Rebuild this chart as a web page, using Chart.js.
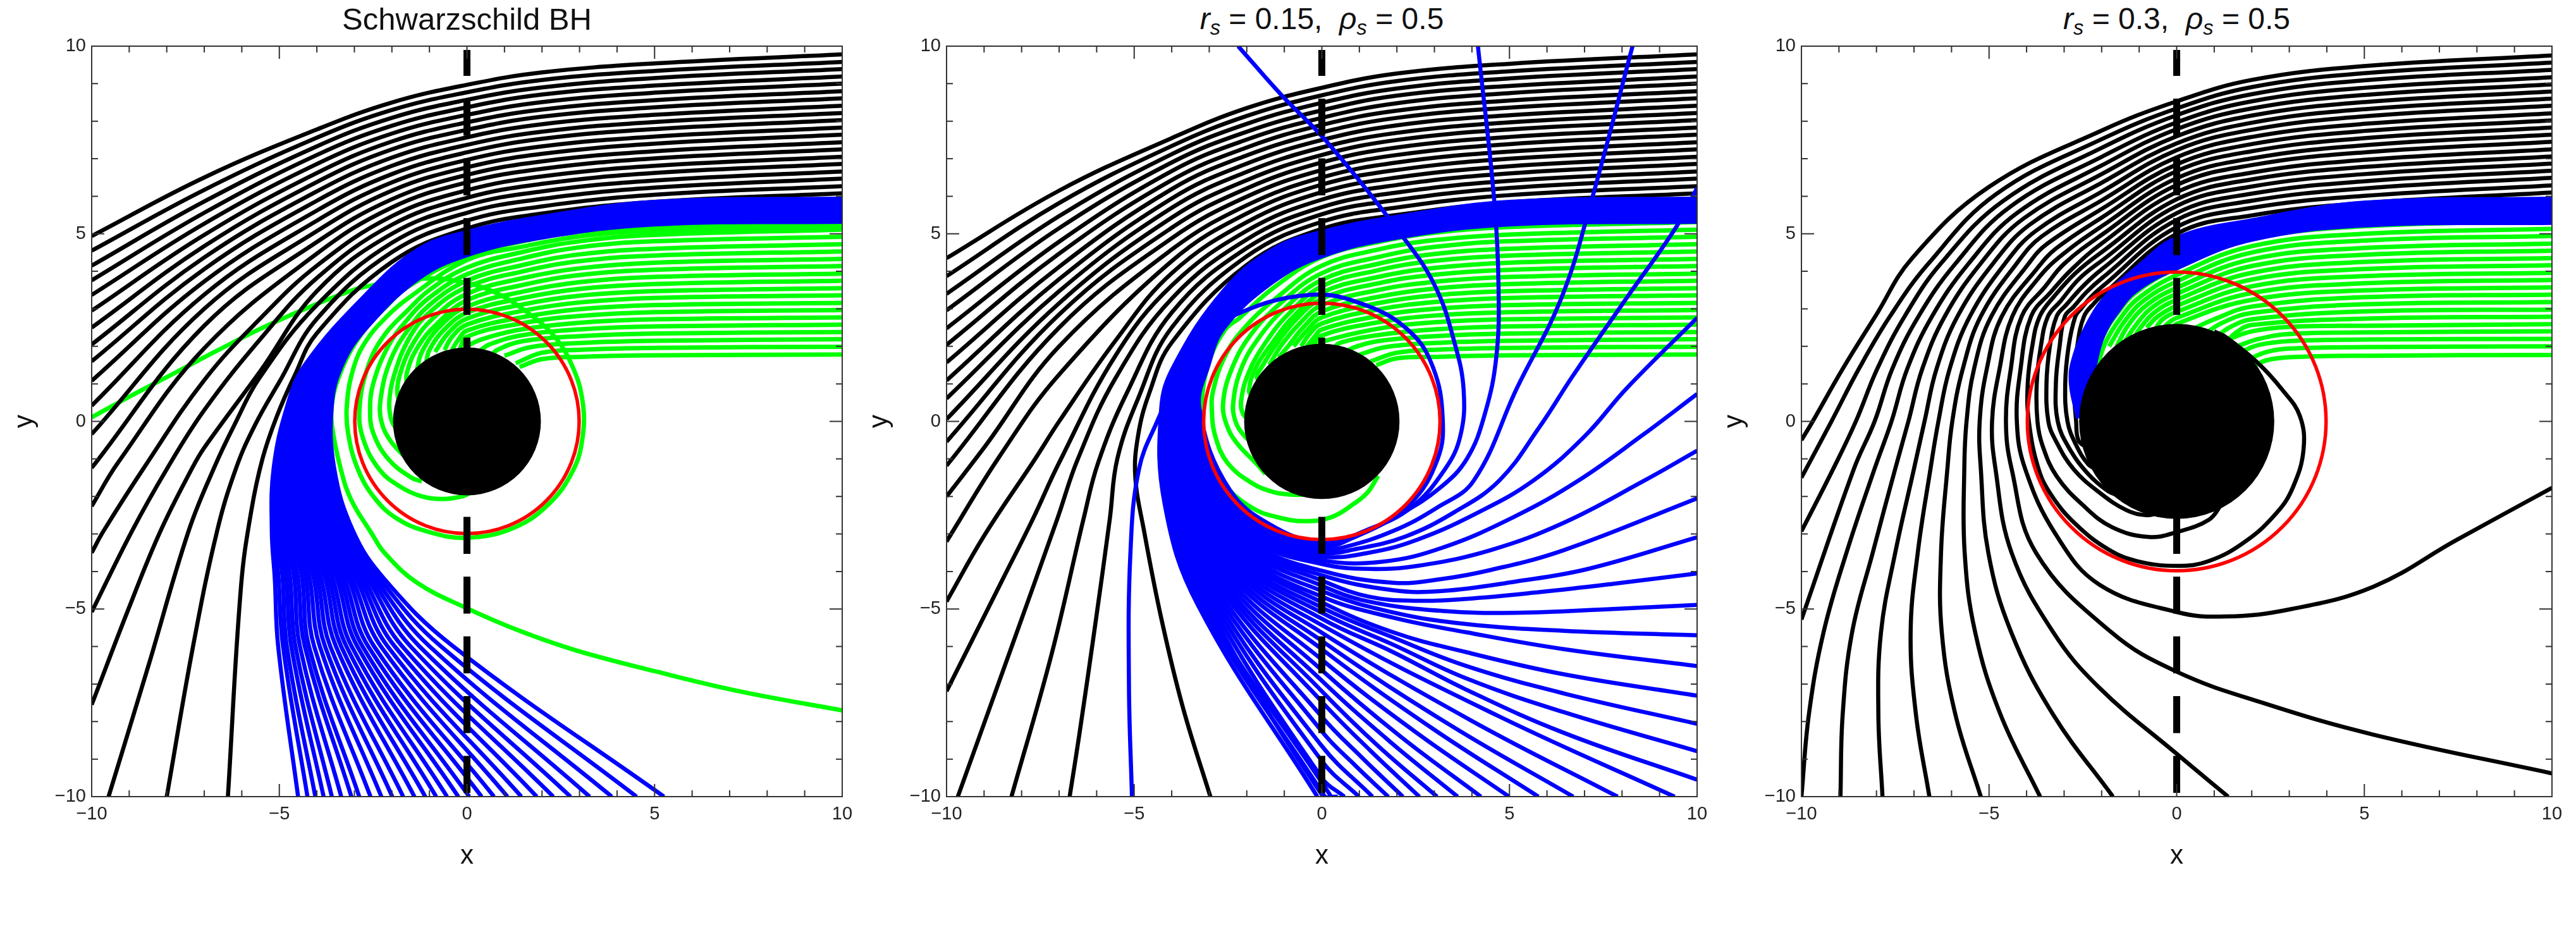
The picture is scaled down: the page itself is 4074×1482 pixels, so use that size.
<!DOCTYPE html>
<html>
<head>
<meta charset="utf-8">
<title>Light rays</title>
<script src="https://cdn.jsdelivr.net/npm/chart.js@4/dist/chart.umd.js"></script>
<style>
body { margin: 0; background: #fff; width: 4074px; height: 1482px; position: relative; overflow: hidden; }
canvas { position: absolute; top: 0; }
.panelTitle { position: absolute; top: 0; width: 1187px; height: 60px; line-height: 60px; text-align: center; font-family: "Liberation Sans", sans-serif; color: #111; white-space: pre; }
.panelTitle sub { font-size: 0.68em; line-height: 0; vertical-align: -0.28em; }
</style>
</head>
<body>
<div class="panelTitle" style="left:145px;font-size:49px">Schwarzschild BH</div>
<div class="panelTitle" style="left:1497px;font-size:48px"><i>r<sub>s</sub></i> = 0.15,  <i>ρ<sub>s</sub></i> = 0.5</div>
<div class="panelTitle" style="left:2849px;font-size:48px"><i>r<sub>s</sub></i> = 0.3,  <i>ρ<sub>s</sub></i> = 0.5</div>
<canvas id="panel0" width="1360" height="1482" style="left:0"></canvas>
<canvas id="panel1" width="1360" height="1482" style="left:1352px"></canvas>
<canvas id="panel2" width="1360" height="1482" style="left:2704px"></canvas>
<script>
const majorTicks = [-10, -5, 0, 5, 10];
const minorTicks = [-9, -8, -7, -6, -4, -3, -2, -1, 1, 2, 3, 4, 6, 7, 8, 9];
const horizonRadius = [1.97, 2.07, 2.6];
const photonRadius = [2.99, 3.15, 3.98];
const dashLine = [0, -9.9, 0, 9.9];
const plotSize = 1187; // pixels across the 20 data units of a panel

const p1Black = [
  [10,9.78,5,9.54,2,9.30,0,8.97,-2,8.5,-4,7.78,-7,6.5,-10,4.94],
  [10,9.58,5,9.34,2,9.10,0,8.77,-2,8.3,-4,7.56,-7,6.17,-10,4.55],
  [10,9.39,5,9.15,2,8.90,0,8.57,-2,8.09,-4,7.33,-7,5.86,-10,4.15],
  [10,9.19,5,8.95,2,8.71,0,8.37,-2,7.88,-4,7.1,-7,5.56,-10,3.76],
  [10,9.00,5,8.76,2,8.51,0,8.17,-2,7.67,-4,6.86,-7,5.27,-10,3.37],
  [10,8.80,5,8.56,2,8.31,0,7.97,-2,7.46,-4,6.62,-7,4.97,-10,2.95],
  [10,8.61,5,8.37,2,8.12,0,7.77,-2,7.25,-4,6.38,-7,4.67,-10,2.5],
  [10,8.41,5,8.17,2,7.92,0,7.57,-2,7.03,-4,6.13,-7,4.37,-10,2.05],
  [10,8.22,5,7.98,2,7.72,0,7.37,-2,6.81,-4,5.88,-7,4.06,-10,1.6],
  [10,8.03,5,7.79,2,7.53,0,7.17,-2,6.59,-4,5.62,-7,3.73,-10,1.08],
  [10,7.83,5,7.59,2,7.33,0,6.97,-2,6.37,-4,5.35,-7,3.38,-10,0.42],
  [10,7.64,5,7.40,2,7.13,0,6.77,-2,6.15,-4,5.07,-7,3.0,-10,-0.34],
  [10,7.44,5,7.20,2,6.93,0,6.57,-2,5.92,-4,4.78,-7,2.55,-10,-1.24],
  [10,7.25,5,7.01,2,6.73,0,6.37,-2,5.7,-4,4.47,-7,1.95,-9.3,-1.1,-10,-2.26],
  [10,7.05,5,6.81,2,6.53,0,6.16,-2,5.47,-4,4.15,-5.5,2.75,-7,1.1,-8.61,-1.24,-9.69,-2.93,-10,-3.5],
  [10,6.86,5,6.62,2,6.33,0,5.96,-2,5.24,-4,3.82,-5.5,2.2,-7,0.3,-7.98,-1.24,-8.93,-2.93,-10,-5.08],
  [10,6.66,5,6.42,2,6.13,0,5.76,-2,5.0,-4,3.47,-5.5,1.35,-7,-0.7,-7.32,-1.24,-8.17,-2.93,-9,-4.95,-10,-7.55],
  [10,6.47,5,6.23,2,5.93,0,5.56,-2,4.76,-4,3.1,-5.5,1.2,-6.2,-0.1,-6.74,-1.24,-7.42,-2.93,-8.5,-6.55,-9.55,-10],
  [10,6.27,5,6.04,2,5.73,0,5.35,-2,4.51,-4,2.73,-5,1.05,-5.65,-0.1,-6.15,-1.24,-6.66,-2.93,-7.3,-6,-8,-10],
  [10,6.08,5,5.85,2,5.54,0,5.14,-2,4.25,-4,2.35,-4.6,1.2,-5.08,0.1,-5.45,-1.0,-5.75,-2.4,-6.02,-4.39,-6.37,-10]
];
const p1Green = [
  [10,5.31,5,5.18,3,5.05,1.5,4.8,0,4.4,-1.57,3.59,-2.13,3.08,-2.7,2.47,-3.15,1.79,-3.48,1.0,-3.6,0.44,-3.6,-0.1,-3.37,-1.24,-3.09,-2.08,-2.53,-3.0,-2.2,-3.5,-1.33,-4.3,0,-4.98,1.45,-5.6,2.9,-6.1,5.1,-6.68,7.3,-7.2,10,-7.7],
  [10,5.21,5,5.08,3,4.93,1.5,4.66,0,4.3,-1.57,3.28,-2.13,2.8,-2.7,2.13,-3.03,1.4,-3.2,0.44,-3.17,-0.29,-2.92,-1.24,-2.47,-2.03,-1.85,-2.6,-1,-2.95,0,-3.1,1.21,-2.85,2.15,-2.23,2.82,-1.32,3.08,-0.43,3.08,0.54,2.8,1.49,2.3,2.3,1.56,2.94,0.72,3.45,-0.3,3.75,-1.3,3.8,-2.7,3.59,-3.26,3.42,-4.38,2.97,-5.5,2.47,-6.63,1.9,-7.75,1.31,-8.88,0.72,-10,0.11],
  [10,5.11,5,4.97,3,4.8,1.5,4.52,0,4.1,-1,3.5,-1.57,2.97,-2.2,2.3,-2.62,1.51,-2.86,0.39,-2.77,-0.45,-2.32,-1.3,-1.76,-1.75,-1.2,-2.0,-0.64,-2.07,-0.13,-2.0,0.1,-1.9],
  [10,4.92,5,4.8,3,4.64,1.5,4.35,0,3.92,-1,3.3,-1.6,2.7,-2.1,2.0,-2.5,1.0,-2.58,0.3,-2.5,-0.3,-2.1,-1,-1.48,-1.5,-1.2,-1.6],
  [10,4.72,5,4.6,3,4.45,1.5,4.17,0,3.75,-1,3.1,-1.6,2.4,-2.05,1.6,-2.3,0.6,-2.28,0,-2.05,-0.5,-1.7,-0.9],
  [10,4.53,5,4.42,3,4.27,1.5,4.0,0,3.58,-1,2.9,-1.55,2.2,-1.95,1.2,-2.07,0.5,-2.0,0,-1.8,-0.3],
  [10,4.33,5,4.23,3,4.08,1.5,3.82,0,3.4,-0.9,2.75,-1.45,2.05,-1.8,1.2,-1.85,0.7,-1.7,0.3],
  [10,4.14,5,4.04,3,3.9,1.5,3.64,0,3.23,-0.8,2.6,-1.3,2,-1.6,1.3,-1.6,0.9],
  [10,3.94,5,3.85,3,3.71,1.5,3.46,0,3.06,-0.7,2.55,-1.2,1.85,-1.35,1.3],
  [10,3.75,5,3.66,3,3.53,1.5,3.29,0,2.9,-0.6,2.45,-1.0,1.9,-1.1,1.5],
  [10,3.55,5,3.47,3,3.35,1.5,3.12,0,2.74,-0.5,2.35,-0.85,1.85],
  [10,3.36,5,3.29,3,3.17,1.5,2.95,0,2.58,-0.4,2.25,-0.6,1.9],
  [10,3.16,5,3.1,3,2.99,1.5,2.78,0,2.42,-0.25,2.15,-0.4,1.9],
  [10,2.97,5,2.91,3,2.81,1.5,2.62,0,2.26,-0.2,1.9],
  [10,2.77,5,2.72,3,2.63,1.5,2.46,0.6,2.25,0,2.0,-0.1,1.8],
  [10,2.58,5,2.53,3,2.45,1.5,2.3,0.6,2.05,0.3,1.85],
  [10,2.38,5,2.34,3,2.27,1.5,2.14,0.8,1.9,0.6,1.7],
  [10,2.19,5,2.15,3,2.09,1.7,1.98,1,1.75],
  [10,1.99,5,1.96,3,1.91,2,1.83,1.3,1.55],
  [10,1.78,5,1.76,3,1.72,2,1.66,1.4,1.45]
];
const p1BlueAt10 = [5.94,5.92,5.90,5.87,5.85,5.83,5.81,5.79,5.76,5.74,5.72,5.70,5.67,5.65,5.63,5.61,5.59,5.56,5.54,5.52,5.50,5.48,5.45,5.43,5.41,5.39,5.37,5.34,5.32];
const p1BlueAt5 = [5.85,5.83,5.81,5.79,5.76,5.74,5.72,5.70,5.68,5.66,5.64,5.61,5.59,5.57,5.55,5.53,5.51,5.49,5.46,5.44,5.42,5.40,5.38,5.36,5.34,5.31,5.29,5.27,5.25];
const p1BlueAt2 = [5.45,5.43,5.41,5.39,5.37,5.35,5.33,5.31,5.29,5.27,5.25,5.23,5.21,5.2,5.18,5.16,5.14,5.12,5.1,5.08,5.06,5.04,5.02,5,4.98,4.96,4.94,4.92,4.9];
const p1BlueAt0 = [5.05,5.03,5.01,4.98,4.96,4.94,4.92,4.90,4.87,4.85,4.83,4.81,4.78,4.76,4.74,4.72,4.70,4.67,4.65,4.63,4.61,4.59,4.56,4.54,4.52,4.50,4.48,4.45,4.43];
const p1BlueAtM13 = [4.58,4.55,4.52,4.5,4.47,4.44,4.41,4.38,4.36,4.33,4.3,4.27,4.25,4.22,4.19,4.16,4.13,4.11,4.08,4.05,4.02,3.99,3.97,3.94,3.91,3.88,3.85,3.83,3.8];
const p1BlueAtM27 = [3.37,3.34,3.31,3.27,3.24,3.21,3.18,3.15,3.11,3.08,3.05,3.02,2.99,2.95,2.92,2.89,2.86,2.83,2.79,2.76,2.73,2.7,2.67,2.63,2.6,2.57,2.54,2.51,2.47];
const p1BlueXUp = [-4.32,-4.28,-4.25,-4.21,-4.18,-4.14,-4.11,-4.07,-4.04,-4.0,-3.97,-3.93,-3.9,-3.86,-3.82,-3.79,-3.75,-3.72,-3.68,-3.65,-3.61,-3.58,-3.54,-3.51,-3.47,-3.44,-3.4,-3.37,-3.33];
const p1BlueXNear = [-4.78,-4.74,-4.70,-4.65,-4.61,-4.57,-4.53,-4.49,-4.44,-4.40,-4.36,-4.32,-4.28,-4.23,-4.19,-4.15,-4.11,-4.07,-4.02,-3.98,-3.94,-3.9,-3.86,-3.81,-3.77,-3.73,-3.69,-3.65,-3.6];
const p1BlueXLeft = [-5.15,-5.09,-5.04,-4.98,-4.92,-4.86,-4.81,-4.75,-4.69,-4.63,-4.58,-4.52,-4.46,-4.4,-4.35,-4.29,-4.23,-4.17,-4.12,-4.06,-4.0,-3.94,-3.89,-3.83,-3.77,-3.71,-3.66,-3.6,-3.54];
const p1BlueXMid = [-5.2,-5.12,-5.05,-4.97,-4.89,-4.81,-4.74,-4.66,-4.58,-4.5,-4.43,-4.35,-4.27,-4.19,-4.12,-4.04,-3.96,-3.88,-3.81,-3.73,-3.65,-3.57,-3.5,-3.42,-3.34,-3.26,-3.19,-3.11,-3.03];
const p1BlueXBend = [-5.12,-5.02,-4.91,-4.81,-4.71,-4.6,-4.5,-4.39,-4.29,-4.19,-4.08,-3.98,-3.88,-3.77,-3.67,-3.57,-3.46,-3.36,-3.26,-3.15,-3.05,-2.94,-2.84,-2.74,-2.63,-2.53,-2.43,-2.32,-2.2];
const p1BlueXLow = [-5.03,-4.9,-4.8,-4.68,-4.57,-4.45,-4.32,-4.21,-4.07,-3.92,-3.78,-3.64,-3.49,-3.35,-3.21,-3.07,-2.92,-2.78,-2.63,-2.47,-2.29,-2.11,-1.92,-1.72,-1.5,-1.26,-0.99,-0.69,-0.36];
const p1BlueEnd = [-4.5,-4.25,-4.04,-3.82,-3.6,-3.35,-3.08,-2.87,-2.57,-2.28,-1.99,-1.7,-1.4,-1.11,-0.82,-0.53,-0.23,0.06,0.39,0.72,1.08,1.45,1.86,2.3,2.76,3.27,3.86,4.52,5.25];

const p2Black = [
  [10,9.78,5,9.53,2,9.27,0,8.89,-2,8.35,-4,7.55,-7,6.15,-10,4.35],
  [10,9.58,5,9.33,2,9.07,0,8.69,-2,8.14,-4,7.34,-7,5.82,-10,3.87],
  [10,9.39,5,9.14,2,8.87,0,8.49,-2,7.93,-4,7.12,-7,5.47,-10,3.4],
  [10,9.19,5,8.94,2,8.68,0,8.29,-2,7.72,-4,6.9,-7,5.15,-10,2.96],
  [10,9.0,5,8.75,2,8.48,0,8.09,-2,7.51,-4,6.67,-7,4.79,-10,2.48],
  [10,8.8,5,8.55,2,8.28,0,7.9,-2,7.3,-4,6.43,-7,4.47,-10,2.04],
  [10,8.61,5,8.36,2,8.09,0,7.7,-2,7.09,-4,6.19,-7,4.12,-10,1.57],
  [10,8.41,5,8.16,2,7.89,0,7.5,-2,6.87,-4,5.94,-7,3.79,-10,1.09],
  [10,8.22,5,7.97,2,7.69,0,7.3,-2,6.65,-4,5.69,-7,3.47,-10,0.61],
  [10,8.03,5,7.78,2,7.5,0,7.1,-2,6.43,-4,5.43,-7,3.15,-10,0.06],
  [10,7.83,5,7.58,2,7.3,0,6.9,-2,6.21,-4,5.16,-7,2.85,-10,-0.54],
  [10,7.64,5,7.39,2,7.1,0,6.7,-2,5.99,-4,4.88,-7,2.5,-10,-1.18],
  [10,7.44,5,7.19,2,6.9,0,6.5,-2,5.76,-4,4.58,-7,2.0,-9,-0.7,-10,-2.0],
  [10,7.25,5,7.0,2,6.7,0,6.31,-2,5.54,-4,4.27,-7,1.25,-8.6,-0.95,-10,-3.2],
  [10,7.05,5,6.8,2,6.5,0,6.11,-2,5.31,-4,3.95,-5.5,2.15,-7,0,-7.64,-1.0,-9,-3.05,-10,-4.8],
  [10,6.86,5,6.61,2,6.3,0,5.91,-2,5.08,-4,3.62,-5.5,1.75,-7,-1.1,-7.7,-2.6,-8.5,-4.2,-10,-7.19],
  [10,6.66,5,6.41,2,6.1,0,5.71,-2,4.85,-4,3.27,-5.5,1.15,-6.5,-1.0,-7.05,-2.6,-8.3,-6.1,-9.7,-10],
  [10,6.47,5,6.22,2,5.9,0,5.52,-2,4.62,-4,2.9,-5.2,0.75,-5.96,-1.1,-6.35,-2.6,-7.2,-6.2,-8.27,-10],
  [10,6.27,5,6.03,2,5.7,0,5.32,-2,4.4,-4,2.5,-4.9,0.6,-5.45,-1.0,-5.65,-2.6,-6.05,-5.5,-6.47,-8.4,-6.72,-10],
  [10,6.08,5,5.84,2,5.5,0,5.13,-2,4.17,-4,2.1,-4.6,0.75,-4.9,-0.4,-4.97,-1.5,-4.75,-2.85,-4.28,-5.24,-3.7,-7.63,-2.97,-10]
];
const p2Green = [
  [10,5.31,5,5.18,3,5.03,1.5,4.78,0,4.38,-1.3,3.55,-2.2,2.75,-2.57,2.45,-3.0,1.6,-3.2,0.5,-3.15,-0.4,-2.93,-1.05,-2.57,-1.71,-1.85,-2.31,-1.19,-2.55,-0.46,-2.66,0.26,-2.55,0.86,-2.19,1.22,-1.89,1.5,-1.45],
  [10,5.11,5,4.98,3,4.83,1.5,4.58,0,4.15,-1.2,3.3,-2.1,2.45,-2.6,1.7,-2.9,0.8,-2.93,0.3,-2.84,-0.39,-2.51,-1.11,-1.85,-1.65,-1.3,-1.88,-0.82,-1.95,-0.4,-1.95],
  [10,4.92,5,4.8,3,4.65,1.5,4.38,0,3.95,-1.1,3.15,-1.9,2.3,-2.4,1.4,-2.63,0.5,-2.54,-0.08,-2.27,-0.57,-1.73,-1.14,-1.5,-1.4],
  [10,4.72,5,4.6,3,4.46,1.5,4.2,0,3.77,-1,3.0,-1.7,2.2,-2.15,1.4,-2.36,0.5,-2.3,0,-2.06,-0.39,-1.8,-0.6],
  [10,4.53,5,4.42,3,4.28,1.5,4.03,0,3.6,-0.9,2.85,-1.5,2.1,-1.95,1.3,-2.15,0.55,-2.1,0.2,-1.9,0],
  [10,4.33,5,4.23,3,4.09,1.5,3.85,0,3.43,-0.8,2.75,-1.35,2.05,-1.75,1.45,-1.94,0.82,-1.8,0.6],
  [10,4.14,5,4.04,3,3.91,1.5,3.68,0,3.27,-0.7,2.7,-1.25,2.0,-1.6,1.45,-1.73,1.18,-1.6,1],
  [10,3.94,5,3.85,3,3.72,1.5,3.5,0,3.1,-0.6,2.6,-1.1,2,-1.4,1.5],
  [10,3.75,5,3.66,3,3.54,1.5,3.32,0,2.93,-0.5,2.5,-0.9,2.0,-1.15,1.7],
  [10,3.55,5,3.47,3,3.36,1.5,3.15,0,2.77,-0.4,2.42,-0.75,2.0],
  [10,3.36,5,3.29,3,3.18,1.5,2.98,0,2.61,-0.35,2.3,-0.55,2.0],
  [10,3.16,5,3.1,3,3.0,1.5,2.81,0,2.45,-0.2,2.25,-0.4,2.0],
  [10,2.97,5,2.91,3,2.82,1.5,2.64,0,2.29,-0.25,2.0],
  [10,2.77,5,2.72,3,2.64,1.5,2.47,0,2.12,-0.1,2.0],
  [10,2.58,5,2.53,3,2.45,1.5,2.3,0.5,2.1,0.3,1.95],
  [10,2.38,5,2.34,3,2.27,1.5,2.14,0.8,1.95,0.6,1.8],
  [10,2.19,5,2.15,3,2.09,1.7,1.98,1,1.78],
  [10,1.99,5,1.96,3,1.91,2,1.83,1.3,1.6],
  [10,1.78,5,1.76,3,1.72,2,1.68,1.45,1.5]
];
const p2BlueAt10 = [5.32,5.34,5.36,5.37,5.39,5.41,5.43,5.44,5.46,5.48,5.5,5.51,5.53,5.55,5.57,5.59,5.6,5.62,5.64,5.66,5.67,5.69,5.71,5.73,5.74,5.76,5.78,5.8,5.82,5.83,5.85,5.87,5.89,5.9,5.92,5.94];
const p2BlueAt5 = [5.25,5.27,5.28,5.3,5.32,5.34,5.35,5.37,5.39,5.4,5.42,5.44,5.46,5.47,5.49,5.51,5.52,5.54,5.56,5.58,5.59,5.61,5.63,5.64,5.66,5.68,5.69,5.71,5.73,5.75,5.76,5.78,5.8,5.81,5.83,5.85];
const p2BlueAt2 = [4.9,4.92,4.93,4.95,4.96,4.98,4.99,5.01,5.03,5.04,5.06,5.07,5.09,5.1,5.12,5.14,5.15,5.17,5.18,5.2,5.21,5.23,5.25,5.26,5.28,5.29,5.31,5.32,5.34,5.36,5.37,5.39,5.4,5.42,5.43,5.45];
const p2BlueAt0 = [4.4,4.42,4.44,4.46,4.47,4.49,4.51,4.53,4.55,4.57,4.59,4.6,4.62,4.64,4.66,4.68,4.7,4.72,4.73,4.75,4.77,4.79,4.81,4.83,4.85,4.86,4.88,4.9,4.92,4.94,4.96,4.98,4.99,5.01,5.03,5.05];
const p2BlueAtM13 = [3.72,3.74,3.77,3.79,3.82,3.84,3.87,3.89,3.92,3.94,3.97,3.99,4.02,4.04,4.06,4.09,4.11,4.14,4.16,4.19,4.21,4.24,4.26,4.29,4.31,4.34,4.36,4.38,4.41,4.43,4.46,4.48,4.51,4.53,4.56,4.58];
const p2BlueAtM26 = [2.5,2.53,2.56,2.59,2.61,2.64,2.67,2.7,2.73,2.76,2.79,2.81,2.84,2.87,2.9,2.93,2.96,2.99,3.01,3.04,3.07,3.1,3.13,3.16,3.19,3.21,3.24,3.27,3.3,3.33,3.36,3.39,3.41,3.44,3.47,3.5];
const p2BlueXUp = [-3.02,-3.05,-3.07,-3.1,-3.12,-3.15,-3.18,-3.2,-3.23,-3.25,-3.28,-3.31,-3.33,-3.36,-3.38,-3.41,-3.44,-3.46,-3.49,-3.51,-3.54,-3.57,-3.59,-3.62,-3.64,-3.67,-3.7,-3.72,-3.75,-3.77,-3.8,-3.83,-3.85,-3.88,-3.9,-3.93];
const p2BlueXNear = [-3.26,-3.29,-3.32,-3.35,-3.38,-3.41,-3.43,-3.46,-3.49,-3.52,-3.55,-3.58,-3.61,-3.64,-3.67,-3.70,-3.73,-3.75,-3.78,-3.81,-3.84,-3.87,-3.9,-3.93,-3.96,-3.99,-4.02,-4.05,-4.07,-4.1,-4.13,-4.16,-4.19,-4.22,-4.25,-4.28];
const p2BlueBendX = [-2.45,-2.5,-2.55,-2.6,-2.65,-2.7,-2.75,-2.8,-2.85,-2.9,-2.95,-3.0,-3.05,-3.1,-3.15,-3.2,-3.25,-3.3,-3.34,-3.39,-3.44,-3.49,-3.54,-3.59,-3.64,-3.69,-3.74,-3.79,-3.84,-3.89,-3.94,-3.99,-4.04,-4.09,-4.14,-4.19];
const p2BlueBendY = [-1.83,-1.84,-1.85,-1.86,-1.87,-1.88,-1.89,-1.9,-1.91,-1.92,-1.93,-1.94,-1.95,-1.96,-1.97,-1.98,-1.99,-2,-2.01,-2.03,-2.04,-2.05,-2.06,-2.07,-2.08,-2.09,-2.1,-2.11,-2.12,-2.13,-2.14,-2.15,-2.16,-2.17,-2.18,-2.19];
const p2BlueFocusX = [-1.2,-1.26,-1.32,-1.38,-1.44,-1.5,-1.56,-1.62,-1.68,-1.74,-1.8,-1.86,-1.92,-1.98,-2.04,-2.1,-2.16,-2.22,-2.28,-2.34,-2.4,-2.46,-2.52,-2.58,-2.64,-2.7,-2.76,-2.82,-2.88,-2.94,-3,-3.06,-3.12,-3.18,-3.24,-3.3];
const p2BlueFocusY = [-2.85,-2.91,-2.97,-3.03,-3.08,-3.14,-3.2,-3.26,-3.32,-3.38,-3.44,-3.49,-3.55,-3.61,-3.67,-3.73,-3.79,-3.85,-3.9,-3.96,-4.02,-4.08,-4.14,-4.2,-4.26,-4.31,-4.37,-4.43,-4.49,-4.55,-4.61,-4.67,-4.72,-4.78,-4.84,-4.9];
const p2BlueTails = [
  [0,-3.2,1.16,-2.94,2.36,-2.19,3.09,-0.99,3.22,0.1,2.97,1.42,2.36,2.38,1.16,3.1,-0.34,3.37,-2.39,2.8,-3.2,2.1,-4,0.8,-4.37,0.04,-4.87,-1.26,-5.1,-3.5,-5.14,-7,-5.06,-10],
  [0,-3.27,1.16,-2.91,2.36,-2.31,3.27,-1.29,3.69,-0.39,3.78,0.82,3.54,2.08,3.02,3.6,2.12,4.97,0.1,7.49,-1.07,8.69,-2.23,10],
  [0,-3.35,0.86,-3.09,2.06,-2.49,3.15,-1.77,3.87,-0.99,4.35,0.22,4.65,1.72,4.71,3.53,4.6,5.82,4.16,10],
  [0,-3.42,0.6,-3.35,1.9,-2.92,3.07,-2.3,4.05,-1.575,5.2,0.89,6.38,3.28,7.19,5.9,8.28,10],
  [0,-3.5,0.92,-3.4,2.22,-3.07,3.53,-2.42,4.73,-1.575,5.8,-0.15,6.68,1.2,8.13,3.3,9.45,5.19,10,6.22],
  [0,-3.6,1.25,-3.5,2.55,-3.15,4.18,-2.42,5.64,-1.575,7.0,-0.4,8.13,0.89,10,2.76],
  [0,-3.7,1.6,-3.74,3.2,-3.37,5.15,-2.53,6.84,-1.575,8.5,-0.4,10,0.73],
  [0,-3.8,1.25,-3.93,2.55,-3.85,4.5,-3.43,6.45,-2.7,8.6,-1.575,10,-0.78],
  [0,-3.98,1.9,-4.3,3.2,-4.2,4.5,-3.96,6.45,-3.43,10,-2.05],
  [0,-4.1,1.9,-4.5,3.2,-4.52,5.15,-4.27,7.1,-3.93,10,-3.09],
  [0,-4.24,1.25,-4.67,2.55,-4.78,3.85,-4.73,5.8,-4.55,7.75,-4.33,10,-4.05],
  [0,-4.38,1.25,-4.8,3.2,-5.05,5.15,-5.1,7.75,-5.0,10,-4.89],
  [0,-4.52,1.9,-5.09,3.85,-5.4,6.45,-5.58,10,-5.7],
  [0,-4.67,1.9,-5.23,3.85,-5.62,6.45,-6.07,10,-6.52],
  [0,-4.82,1.9,-5.62,3.85,-6.15,6.45,-6.74,10,-7.31],
  [0,-4.96,1.9,-5.76,3.85,-6.52,6.45,-7.25,10,-8.06],
  [0,-5.1,1.9,-5.95,3.85,-6.85,6.45,-7.75,10,-8.79],
  [0,-5.26,1.9,-6.15,3.85,-7.15,6.45,-8.3,10,-9.55],
  [0,-5.43,4.7,-7.85,9.4,-10],
  [0,-5.63,3.94,-7.95,7.88,-10],
  [0,-5.85,3.35,-8.05,6.7,-10],
  [0,-6.07,2.9,-8.15,5.77,-10],
  [0,-6.35,2.5,-8.28,4.99,-10],
  [0,-6.63,2.1,-8.4,4.24,-10],
  [0,-6.91,1.8,-8.52,3.62,-10],
  [0,-7.19,1.5,-8.65,3.07,-10],
  [0,-7.47,1.3,-8.78,2.6,-10],
  [0,-7.87,1.08,-8.97,2.16,-10],
  [0,-8.26,0.88,-9.16,1.77,-10],
  [0,-8.65,1.35,-10],
  [0,-9.05,0.99,-10],
  [0,-9.5,0.6,-10],
  [0,-9.95,0.42,-10],
  [0.25,-10],
  [0.08,-10],
  [-0.12,-10]
];

const p3Black = [
  [10,9.75,5,9.47,2,9.1,0,8.53,-2,7.75,-5,6.25,-7.05,4.35,-8.03,2.8,-8.9,1.4,-9.7,0,-10,-0.5],
  [10,9.56,5,9.28,2,8.91,0,8.34,-2,7.52,-4.82,6.05,-6.62,4.2,-7.64,2.8,-8.47,1.4,-9.2,0,-10,-1.5],
  [10,9.37,5,9.09,2,8.72,0,8.16,-2,7.29,-4.62,5.88,-6.29,4.2,-7.25,2.8,-7.98,1.4,-8.55,0,-9.15,-1.26,-10,-2.93],
  [10,9.17,5,8.89,2,8.53,0,7.97,-2,7.05,-4.44,5.72,-5.9,4.2,-6.88,2.8,-7.58,1.4,-8.05,0,-8.6,-1.26,-10,-5.28],
  [10,8.98,5,8.70,2,8.34,0,7.79,-2,6.82,-4.26,5.55,-5.55,4.2,-6.52,2.8,-7.18,1.4,-7.6,0,-8.05,-1.26,-8.8,-3.5,-9.41,-5.62,-9.8,-7.8,-10,-10],
  [10,8.79,5,8.51,2,8.15,0,7.6,-2,6.59,-4.09,5.4,-5.23,4.2,-6.18,2.8,-6.78,1.4,-7.15,0,-7.5,-1.26,-8.1,-3.5,-8.65,-5.62,-8.9,-7.8,-8.96,-10],
  [10,8.6,5,8.32,2,7.96,0,7.41,-2,6.36,-3.92,5.24,-4.9,4.2,-5.84,2.8,-6.4,1.4,-6.72,0,-7,-1.26,-7.5,-3.5,-7.88,-5.62,-7.95,-7.8,-7.84,-10],
  [10,8.41,5,8.13,2,7.77,0,7.23,-2,6.12,-3.75,5.08,-4.58,4.2,-5.51,2.8,-6.05,1.4,-6.35,0,-6.56,-1.26,-6.9,-3.5,-7.09,-5.62,-6.95,-7.8,-6.59,-10],
  [10,8.21,5,7.93,2,7.58,0,7.04,-2,5.89,-3.61,4.92,-4.27,4.2,-5.22,2.8,-5.7,1.4,-5.98,0,-6.11,-1.26,-6.28,-3.5,-6.26,-5.62,-5.9,-7.8,-5.22,-10],
  [10,8.02,5,7.74,2,7.39,0,6.85,-2,5.66,-3.47,4.72,-3.95,4.2,-4.94,2.8,-5.4,1.4,-5.6,0,-5.66,-1.26,-5.65,-3.5,-5.37,-5.62,-4.7,-7.8,-3.64,-10],
  [10,7.83,5,7.55,2,7.2,0,6.67,-2,5.43,-3.2,4.62,-3.7,4.1,-4.66,2.8,-5.06,1.4,-5.25,0,-5.22,-1.26,-5.02,-3.5,-4.41,-5.62,-3.3,-7.8,-1.7,-10],
  [10,7.64,5,7.36,2,7.01,0,6.48,-2,5.2,-3.1,4.4,-3.7,3.8,-4.38,2.8,-4.72,1.4,-4.92,0,-4.83,-1.26,-4.4,-3.5,-3.29,-5.62,-2.06,-7.1,0,-8.86,1.37,-10],
  [10,7.45,5,7.17,2,6.83,0,6.3,-2,4.97,-3,4.2,-3.5,3.6,-4.13,2.8,-4.42,1.4,-4.55,0,-4.4,-1.26,-3.75,-3.5,-1.74,-5.62,0,-6.67,2.32,-7.51,5.25,-8.35,10,-9.38],
  [10,7.25,5,6.97,2,6.63,0,6.11,-2,4.74,-2.8,4.05,-3.35,3.45,-3.88,2.8,-4.16,1.4,-4.26,0,-4.04,-1.26,-3.23,-3.0,-2.06,-4.35,0,-5.08,1.3,-5.2,3.06,-5,5.25,-4.4,7.44,-3.17,10,-1.77],
  [10,7.06,5,6.78,2,6.45,0,5.92,-2,4.51,-2.7,3.95,-3.25,3.35,-3.65,2.8,-3.85,2.0,-3.97,1.0,-3.94,0,-3.68,-1.27,-3.33,-1.98,-2.68,-2.75,-1.84,-3.4,-1.07,-3.72,0,-3.85,0.86,-3.72,1.83,-3.2,2.67,-2.43,3.1,-1.75,3.38,-0.75,3.28,0.15,2.8,0.86,2.15,1.57,1.32,2.24,1.0,2.4],
  [10,6.87,5,6.59,2,6.26,0,5.74,-2,4.28,-2.6,3.8,-3.1,3.2,-3.43,2.8,-3.62,2.0,-3.73,1.0,-3.71,0,-3.58,-0.63,-3.2,-1.46,-2.49,-2.24,-1.72,-2.82,-0.75,-3.08,0,-2.95,0.86,-2.62,1.2,-2.2],
  [10,6.68,5,6.4,2,6.07,0,5.55,-2,4.05,-2.5,3.6,-2.95,3.1,-3.2,2.8,-3.38,2.0,-3.47,1.0,-3.42,0,-3.23,-0.5,-2.75,-1.27,-2.04,-1.91,-1.33,-2.37,-0.81,-2.5,-0.5,-2.45],
  [10,6.49,5,6.21,2,5.88,0,5.37,-2,3.81,-2.4,3.45,-2.75,3.05,-2.98,2.8,-3.12,2.0,-3.22,1.0,-3.17,0,-2.88,-0.69,-2.36,-1.4,-1.84,-1.85,-1.5,-2.0],
  [10,6.29,5,6.01,2,5.69,0,5.18,-2,3.58,-2.3,3.3,-2.55,3.0,-2.7,2.8,-2.88,2.0,-2.97,1,-2.91,0,-2.68,-0.63,-2.36,-1.14,-2.1,-1.3],
  [10,6.1,5,5.82,2,5.49,0,5.0,-2,3.35,-2.2,3.15,-2.47,2.8,-2.65,2.0,-2.74,1,-2.68,0,-2.62,-0.5,-2.4,-0.7]
];
const p3Green = [
  [10,5.33,5,5.2,2,4.85,0,4.08,-1.07,3.45,-1.59,2.87,-1.97,2.25,-2.17,1.6,-2.2,1.2],
  [10,5.13,5,5.0,2,4.67,0,3.9,-1,3.3,-1.5,2.75,-1.9,2.1,-2.1,1.5],
  [10,4.94,5,4.82,2,4.5,0,3.73,-0.9,3.2,-1.4,2.65,-1.8,2.0],
  [10,4.74,5,4.62,2,4.32,0,3.56,-0.8,3.1,-1.3,2.55,-1.6,2.0],
  [10,4.55,5,4.44,2,4.14,0,3.4,-0.7,3.0,-1.1,2.55,-1.4,2.1],
  [10,4.35,5,4.25,2,3.96,0,3.24,-0.6,2.9,-1,2.45,-1.2,2.1],
  [10,4.16,5,4.06,2,3.78,0,3.08,-0.5,2.8,-0.8,2.5],
  [10,3.96,5,3.87,2,3.6,0,2.92,-0.4,2.7,-0.6,2.4],
  [10,3.77,5,3.68,2,3.42,0,2.76,-0.25,2.6,-0.4,2.4],
  [10,3.57,5,3.49,2,3.24,0,2.6,-0.2,2.4],
  [10,3.38,5,3.31,2,3.06,1,2.72,0.3,2.4],
  [10,3.18,5,3.12,2,2.89,1.2,2.62,0.7,2.3],
  [10,2.98,5,2.93,2,2.72,1.4,2.5,1,2.2],
  [10,2.79,5,2.74,2,2.57,1.6,2.38,1.3,2.1],
  [10,2.59,5,2.55,3,2.52,2,2.4,1.4,2.2],
  [10,2.4,5,2.37,3,2.33,2.2,2.2,1.6,2.0],
  [10,2.2,5,2.18,3,2.14,2.2,2.04,1.7,1.85],
  [10,2.0,5,1.98,3,1.94,2.4,1.85,1.9,1.65],
  [10,1.77,5,1.75,3,1.71,2.4,1.63,2,1.45]
];
const p3Blue = [
  [10,5.93,5,5.82,2,5.35,0,4.88,-1.07,4.08,-1.84,3.37,-2.36,2.6,-2.75,1.63,-2.81,0.99,-2.62,0.08],
  [10,5.85,5,5.75,2,5.28,0,4.8,-1.07,4.0,-1.81,3.31,-2.31,2.56,-2.68,1.61,-2.75,0.98,-2.55,0.1],
  [10,5.77,5,5.67,2,5.22,0,4.7,-1.07,3.93,-1.78,3.26,-2.26,2.52,-2.61,1.58,-2.69,0.97,-2.49,0.1],
  [10,5.69,5,5.6,2,5.16,0,4.6,-1.07,3.86,-1.75,3.2,-2.21,2.48,-2.54,1.56,-2.62,0.96,-2.42,0.1],
  [10,5.61,5,5.52,2,5.1,0,4.49,-1.07,3.79,-1.72,3.15,-2.17,2.44,-2.48,1.54,-2.56,0.95,-2.36,0.1],
  [10,5.54,5,5.45,2,5.03,0,4.39,-1.07,3.72,-1.68,3.09,-2.12,2.4,-2.41,1.51,-2.5,0.93,-2.29,0.1],
  [10,5.46,5,5.38,2,4.97,0,4.29,-1.07,3.65,-1.65,3.03,-2.07,2.36,-2.34,1.49,-2.43,0.92,-2.23,0.1],
  [10,5.38,5,5.3,2,4.91,0,4.19,-1.07,3.57,-1.62,2.98,-2.02,2.32,-2.27,1.46,-2.37,0.91,-2.16,0.1],
  [10,5.3,5,5.23,2,4.85,0,4.09,-1.07,3.5,-1.59,2.92,-1.97,2.28,-2.2,1.44,-2.3,0.9,-2.1,0.1]
];

function toPoints(flat) {
  const pts = [];
  for (let i = 0; i < flat.length; i += 2) pts.push({ x: flat[i], y: flat[i + 1] });
  return pts;
}

function rayDataset(flat, color, width, order) {
  return { type: 'scatter', data: toPoints(flat), showLine: true, borderColor: color, borderWidth: width, backgroundColor: color,
    pointRadius: 0, tension: 0.4, capBezierPoints: false, borderJoinStyle: 'round', clip: 0, order };
}

// bubble radii are pixels, so data units go through the fixed plot size
function circleDataset(radius, fill, stroke, width, order) {
  return { type: 'bubble', data: [{ x: 0, y: 0, r: radius * plotSize / 20 }], backgroundColor: fill, borderColor: stroke, borderWidth: width, clip: 0, order };
}

const p1BlueRays = p1BlueEnd.map((end, i) => [10, p1BlueAt10[i], 5, p1BlueAt5[i], 2, p1BlueAt2[i], 0, p1BlueAt0[i], -1.3, p1BlueAtM13[i], -2.7, p1BlueAtM27[i],
  p1BlueXUp[i], 1.5, p1BlueXNear[i], 0.44, p1BlueXLeft[i], -1.24, p1BlueXMid[i], -2.93, p1BlueXBend[i], -4.2, p1BlueXLow[i], -6, end, -10]);
const p2BlueRays = p2BlueTails.map((tail, i) => [10, p2BlueAt10[i], 5, p2BlueAt5[i], 2, p2BlueAt2[i], 0, p2BlueAt0[i], -1.3, p2BlueAtM13[i], -2.6, p2BlueAtM26[i],
  p2BlueXUp[i], 1.5, p2BlueXNear[i], 0.34, p2BlueBendX[i], p2BlueBendY[i], p2BlueFocusX[i], p2BlueFocusY[i], ...tail]);

const panelRays = [
  { green: p1Green, black: p1Black, blue: p1BlueRays, blueWidth: 6.5 },
  { green: p2Green, black: p2Black, blue: p2BlueRays, blueWidth: 6.5 },
  { green: p3Green, black: p3Black, blue: p3Blue, blueWidth: 7.5 }
];

// inward ticks on all four sides plus the frame, Chart.js only draws outward ones
const framePlugin = {
  id: 'frame',
  afterDatasetsDraw(chart) {
    const { ctx, chartArea: a, scales: { x, y } } = chart;
    ctx.save();
    ctx.strokeStyle = '#333';
    ctx.lineWidth = 2;
    const mark = (list, len) => list.forEach(v => {
      const px = x.getPixelForValue(v), py = y.getPixelForValue(v);
      ctx.beginPath();
      ctx.moveTo(px, a.bottom); ctx.lineTo(px, a.bottom - len);
      ctx.moveTo(px, a.top); ctx.lineTo(px, a.top + len);
      ctx.moveTo(a.left, py); ctx.lineTo(a.left + len, py);
      ctx.moveTo(a.right, py); ctx.lineTo(a.right - len, py);
      ctx.stroke();
    });
    mark(majorTicks, 20);
    mark(minorTicks, 10);
    ctx.strokeRect(a.left, a.top, a.right - a.left, a.bottom - a.top);
    ctx.restore();
  }
};

function axisOptions(name, fit) {
  return {
    type: 'linear', min: -10, max: 10,
    grid: { display: false, drawTicks: false },
    border: { display: false },
    afterBuildTicks: scale => { scale.ticks = majorTicks.map(value => ({ value })); },
    afterFit: fit,
    ticks: { autoSkip: false, maxRotation: 0, padding: name === 'x' ? 11 : 9, color: '#222',
      font: { family: 'Liberation Sans', size: 29 },
      callback: v => (v < 0 ? '\u2212' + (-v) : String(v)) },
    title: { display: true, text: name, color: '#111', padding: 0, font: { family: 'Liberation Sans', size: 42 } }
  };
}

panelRays.forEach((rays, k) => {
  const datasets = [];
  rays.green.forEach(r => datasets.push(rayDataset(r, '#00ff00', 7, 5)));
  rays.black.forEach(r => datasets.push(rayDataset(r, '#000000', 6.5, 4)));
  rays.blue.forEach(r => datasets.push(rayDataset(r, '#0000ff', rays.blueWidth, 3)));
  datasets.push(circleDataset(photonRadius[k], 'rgba(0,0,0,0)', '#ff0000', 5.5, 2));
  datasets.push(circleDataset(horizonRadius[k], '#000000', '#000000', 0, 1));
  const dash = rayDataset(dashLine, '#000000', 11, 0);
  dash.tension = 0;
  dash.borderDash = [58.5, 36];
  datasets.push(dash);

  new Chart(document.getElementById('panel' + k), {
    type: 'scatter',
    data: { datasets },
    plugins: [framePlugin],
    options: {
      responsive: false, animation: false, devicePixelRatio: 1, events: [],
      layout: { autoPadding: false, padding: { left: 14, top: 73, right: 28, bottom: 102 } },
      plugins: { legend: { display: false }, tooltip: { enabled: false } },
      scales: {
        x: axisOptions('x', s => { s.height = 120; }),
        y: axisOptions('y', s => { s.width = 131; })
      }
    }
  });
});
</script>
</body>
</html>
